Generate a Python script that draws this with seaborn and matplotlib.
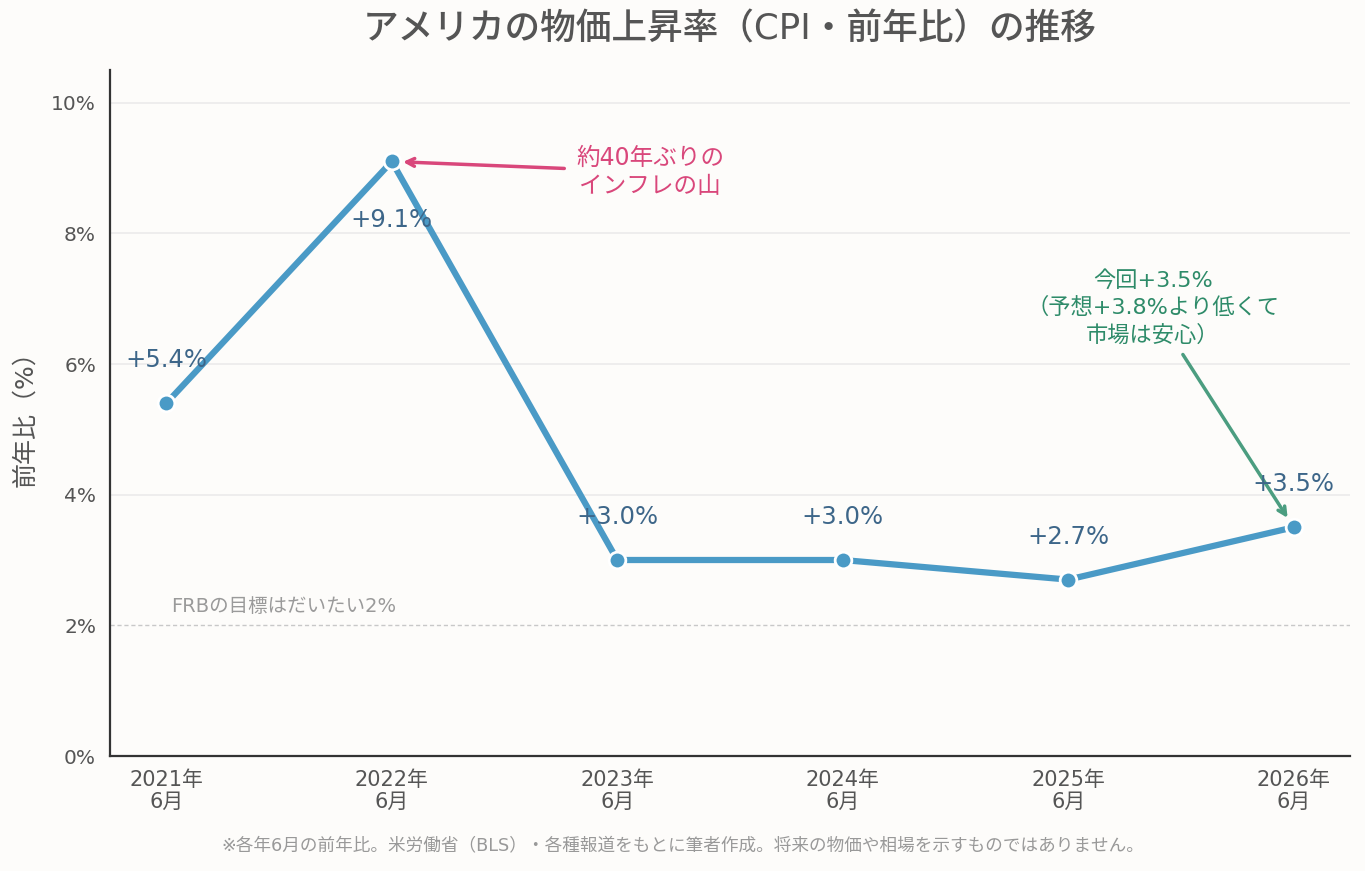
import matplotlib
matplotlib.use("Agg")
import matplotlib.pyplot as plt
import seaborn as sns
import pandas as pd

periods = ["2021年\n6月", "2022年\n6月", "2023年\n6月", "2024年\n6月", "2025年\n6月", "2026年\n6月"]
cpi = [5.4, 9.1, 3.0, 3.0, 2.7, 3.5]
value_labels = ["+5.4%", "+9.1%", "+3.0%", "+3.0%", "+2.7%", "+3.5%"]
yticks = [0, 2, 4, 6, 8, 10]
ytick_labels = ["0%", "2%", "4%", "6%", "8%", "10%"]

sns.set_theme(style="white")
plt.rcParams['font.family'] = ['DejaVu Sans', 'Noto Sans CJK JP']

bg = "#fdfcfa"
line_c = "#4a9ac6"
lab_c = "#3d6689"

df = pd.DataFrame({"x": range(len(periods)), "y": cpi})

fig = plt.figure(figsize=(13.65, 8.71), dpi=100, facecolor=bg)
ax = fig.add_axes([110/1365, 1-756/871, 1240/1365, (756-70)/871])
ax.set_facecolor(bg)

for t in [4, 6, 8, 10]:
    ax.axhline(t, color="#ebebeb", lw=1.2, zorder=0)
ax.axhline(2, color="#c8c8c8", lw=1, ls=(0, (3, 2)), zorder=0)

sns.lineplot(data=df, x="x", y="y", ax=ax, color=line_c, lw=4.5, marker="o",
             markersize=12, markeredgecolor="white", markeredgewidth=2, zorder=3)

ax.set_xlim(-0.25, 5.25)
ax.set_ylim(0, 10.5)
ax.set_xticks(range(len(periods)))
ax.set_xticklabels(periods, fontsize=15, color="#555555", linespacing=1.1)
ax.set_yticks(yticks)
ax.set_yticklabels(ytick_labels, fontsize=14.5, color="#555555")
ax.tick_params(axis="both", length=6, width=1.3, color="#333333", direction="out", pad=4)
for s in ["top", "right"]:
    ax.spines[s].set_visible(False)
for s in ["left", "bottom"]:
    ax.spines[s].set_color("#333333")
    ax.spines[s].set_linewidth(1.6)
ax.set_xlabel("")
ax.set_ylabel("前年比（%）", fontsize=18, color="#555555", labelpad=10)

for i, (v, lab) in enumerate(zip(cpi, value_labels)):
    off = -42 if i == 1 else 31
    ax.annotate(lab, (i, v), xytext=(0, off), textcoords="offset points", ha="center",
                va="center", fontsize=17.5, color=lab_c, zorder=4)

ax.annotate("約40年ぶりの\nインフレの山", xy=(1, 9.1), xytext=(2.145, 8.94),
            ha="center", va="center", fontsize=17, color="#d9477b", linespacing=1.23,
            arrowprops=dict(arrowstyle="->", color="#d9477b", lw=2.5, shrinkA=6, shrinkB=8,
                            mutation_scale=14))

ax.annotate("今回+3.5%\n（予想+3.8%より低くて\n市場は安心）", xy=(5, 3.5), xytext=(4.376, 6.86),
            ha="center", va="center", fontsize=16, color="#2e8b69", linespacing=1.35,
            arrowprops=dict(arrowstyle="->", color="#4b9d80", lw=2.5, shrinkA=5, shrinkB=8,
                            mutation_scale=14))

ax.text(0.02, 2.15, "FRBの目標はだいたい2%", fontsize=14, color="#9a9a9a", ha="left", va="bottom")

ax.set_title("アメリカの物価上昇率（CPI・前年比）の推移", fontsize=25.7, color="#555555",
             fontweight="medium", pad=22)
fig.text(0.5, 1-845/871, "※各年6月の前年比。米労働省（BLS）・各種報道をもとに筆者作成。将来の物価や相場を示すものではありません。",
         ha="center", va="center", fontsize=12.7, color="#999999")

fig.savefig("out.png", dpi=100, facecolor=bg)
